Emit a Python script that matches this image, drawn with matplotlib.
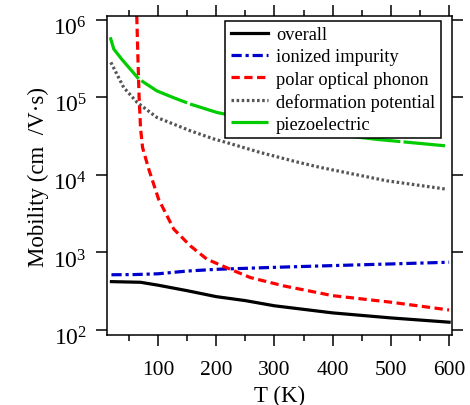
import matplotlib
matplotlib.use('Agg')
import matplotlib.pyplot as plt
from matplotlib.ticker import MultipleLocator, NullLocator
from matplotlib.transforms import ScaledTranslation

plt.rcParams['font.family'] = ['Liberation Serif', 'DejaVu Serif']
plt.rcParams['mathtext.fontset'] = 'custom'
plt.rcParams['mathtext.rm'] = 'Liberation Serif'

# data (T in K, mobility in cm2/Vs)
t_overall = [20, 70, 100, 150, 200, 250, 300, 400, 500, 600]
mu_overall = [420, 412, 378, 321, 269, 239, 205, 166, 143, 126]

t_ionized = [20, 60, 100, 150, 200, 300, 400, 500, 600]
mu_ionized = [515, 518, 530, 575, 605, 642, 676, 710, 747]

t_polar = [63.5, 65.5, 67.5, 70, 73.5, 84, 101, 127, 155.5, 184, 224, 258.6, 316, 400, 500, 600]
mu_polar = [1.12e6, 3.2e5, 1.0e5, 4.0e4, 2.24e4, 1.19e4, 4850, 2000, 1215, 817, 607, 474, 370, 277, 228, 181]

t_deform = [19, 41, 64, 98, 155.5, 196, 217, 275, 338, 378, 493, 596]
mu_deform = [282000, 134000, 86000, 55000, 37000, 29000, 26200, 19500, 14700, 12500, 8380, 6530]

t_piezo = [18, 24, 37.5, 67, 98, 125, 155.5, 201, 215, 300, 400, 471, 593]
mu_piezo = [593000, 419000, 311000, 172000, 121000, 100000, 81700, 63800, 60700, 44300, 33600, 28900, 23700]

labels = ['overall', 'ionized impurity', 'polar optical phonon',
          'deformation potential', 'piezoelectric']
y_decades = [1e2, 1e3, 1e4, 1e5, 1e6]

fig = plt.figure(figsize=(4.7, 4.06), dpi=100)
ax = fig.add_axes([0.2277, 0.1724, 0.734, 0.7857])

lw = 2.3
ax.plot(t_overall, mu_overall, color='black', lw=lw, label=labels[0])
ax.plot(t_ionized, mu_ionized, color='#0000cc', lw=lw, dashes=(3.2, 1.2, 1.0, 1.2), label=labels[1])
ax.plot(t_polar, mu_polar, color='#ff0000', lw=lw, dashes=(2.6, 1.4), label=labels[2])
ax.plot(t_deform, mu_deform, color='#555555', lw=lw, dashes=(0.8, 0.8), label=labels[3])
ax.plot(t_piezo, mu_piezo, color='#00cc00', lw=lw, dashes=(16, 1.0), label=labels[4])

ax.set_yscale('log')
ax.set_xlim(12.4, 605)
ax.set_ylim(10**1.935, 10**6.048)
ax.xaxis.set_major_locator(MultipleLocator(100))
ax.xaxis.set_minor_locator(MultipleLocator(50))
ax.set_yticks(y_decades)
ax.set_yticklabels([r'$\mathdefault{10^{%d}}$' % e for e in range(2, 7)])
ax.yaxis.set_minor_locator(NullLocator())

for s in ax.spines.values():
    s.set_linewidth(1.1)
ax.tick_params(which='both', direction='out', top=True, right=True, width=1.1)
ax.tick_params(which='major', length=8)
ax.tick_params(which='minor', length=4.5)
ax.tick_params(axis='x', labelsize=15.5, pad=10)
ax.tick_params(axis='y', labelsize=17, pad=6.5)

# shift y tick labels slightly downward like the original
shift = ScaledTranslation(0, -4 / 72, fig.dpi_scale_trans)
for lbl in ax.get_yticklabels():
    lbl.set_transform(lbl.get_transform() + shift)

ax.set_xlabel('T (K)', fontsize=16.5, labelpad=4)
ax.set_ylabel('Mobility (cm  /V\u00b7s)', fontsize=16.5, labelpad=3)

leg = ax.legend(loc='upper right', bbox_to_anchor=(0.967, 0.985), borderaxespad=0,
                fontsize=13.2, frameon=True, fancybox=False, handlelength=2.0,
                handletextpad=0.45, labelspacing=0.28, borderpad=0.3)
leg.get_frame().set_edgecolor('black')
leg.get_frame().set_linewidth(1.1)
leg.get_frame().set_alpha(1)

fig.savefig('out.png', dpi=100, facecolor='white')
